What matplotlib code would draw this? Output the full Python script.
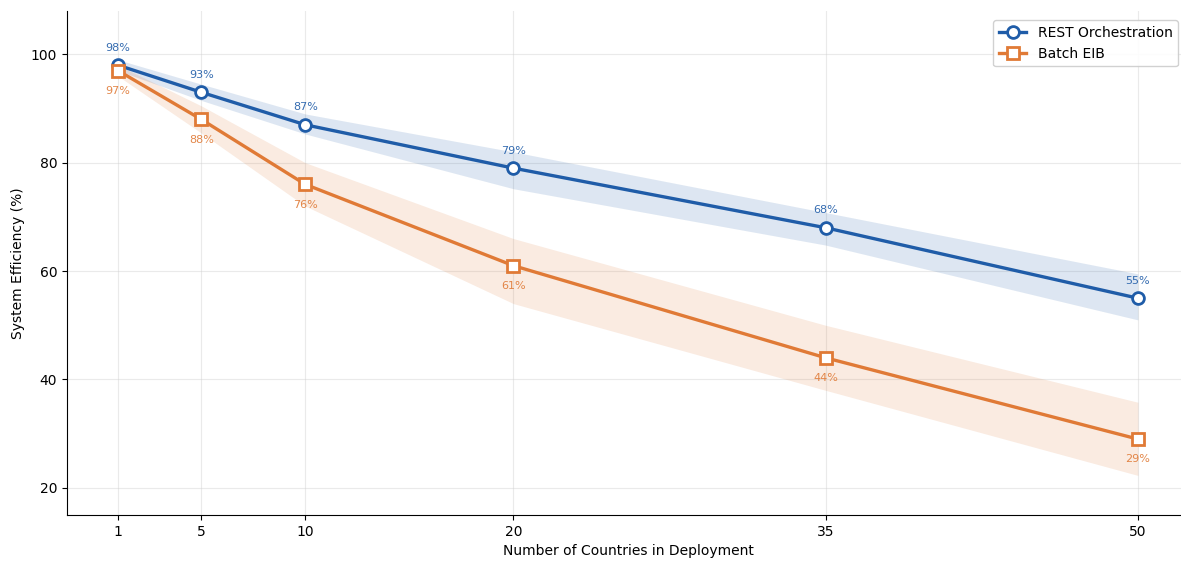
import matplotlib
matplotlib.use("Agg")
import matplotlib.pyplot as plt

# Number of countries in deployment
countries = [1, 5, 10, 20, 35, 50]

# System efficiency (%) per approach
rest_eff = [98, 93, 87, 79, 68, 55]
batch_eff = [97, 88, 76, 61, 44, 29]

# Variability bands (lower / upper bounds)
rest_low = [97, 91.5, 85.3, 75.2, 64.8, 51]
rest_high = [99, 94.5, 89, 82, 70.8, 59.5]
batch_low = [96, 85.5, 72, 54, 38, 22.3]
batch_high = [98, 90.5, 80, 66, 50, 35.8]

BLUE = "#1f5ca8"
ORANGE = "#e07a36"

fig = plt.figure(figsize=(11.81, 5.63), dpi=100)
ax = fig.add_axes([0.0567, 0.0853, 0.95, 0.8952])

ax.fill_between(countries, rest_low, rest_high, color=BLUE, alpha=0.15, linewidth=0)
ax.fill_between(countries, batch_low, batch_high, color=ORANGE, alpha=0.15, linewidth=0)

ax.plot(countries, rest_eff, color=BLUE, linewidth=2.4, marker="o", markersize=8.5,
        markerfacecolor="white", markeredgecolor=BLUE, markeredgewidth=2.0,
        label="REST Orchestration", zorder=3)
ax.plot(countries, batch_eff, color=ORANGE, linewidth=2.4, marker="s", markersize=8.5,
        markerfacecolor="white", markeredgecolor=ORANGE, markeredgewidth=2.0,
        label="Batch EIB", zorder=3)

for x, v in zip(countries, rest_eff):
    ax.annotate(f"{v}%", (x, v), textcoords="offset points", xytext=(0, 9),
                ha="center", va="bottom", fontsize=8, color=BLUE, alpha=0.9)
for x, v in zip(countries, batch_eff):
    ax.annotate(f"{v}%", (x, v), textcoords="offset points", xytext=(0, -11),
                ha="center", va="top", fontsize=8, color=ORANGE, alpha=0.9)

ax.set_xlim(-1.45, 52.45)
ax.set_ylim(15, 108)
ax.set_xticks(countries)
ax.set_yticks([20, 40, 60, 80, 100])
ax.tick_params(labelsize=10)

ax.set_xlabel("Number of Countries in Deployment", fontsize=10)
ax.set_ylabel("System Efficiency (%)", fontsize=10)

ax.grid(True, color="#cccccc", alpha=0.4, linewidth=0.8)
ax.set_axisbelow(True)
for side in ("top", "right"):
    ax.spines[side].set_visible(False)

ax.legend(loc="upper right", fontsize=10, framealpha=0.9, edgecolor="#cccccc",
          bbox_to_anchor=(0.9965, 0.995))

fig.savefig("out.png", dpi=100)
